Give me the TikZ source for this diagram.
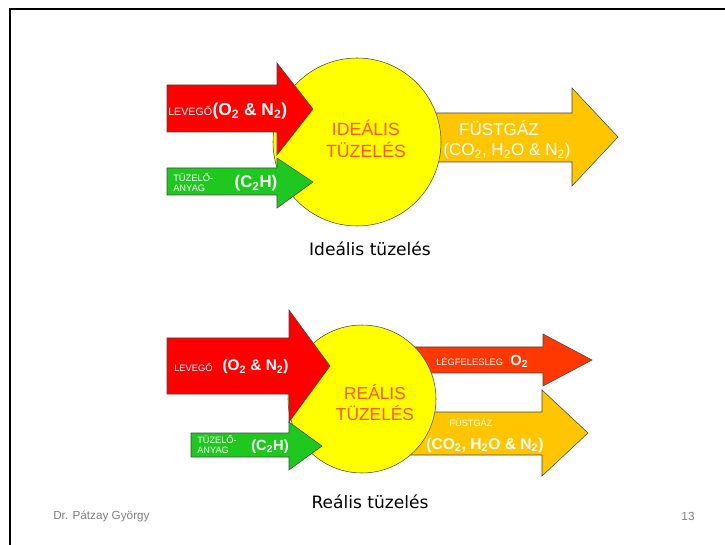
\documentclass[tikz,border=0pt]{standalone}
\usepackage{fontspec}
\setmainfont{Liberation Sans}
\newfontfamily\comicfont{DejaVu Sans}
\usepackage{xcolor}
\usetikzlibrary{positioning}

\definecolor{fire_yellow}{RGB}{255,255,0}
\definecolor{air_red}{RGB}{255,0,0}
\definecolor{fuel_green}{RGB}{30,200,30}
\definecolor{flue_orange}{RGB}{255,198,0}
\definecolor{excess_red}{RGB}{255,55,0}
\definecolor{title_orange}{RGB}{255,85,25}

\begin{document}
\begin{tikzpicture}[x=0.75pt,y=-0.75pt]
	\tikzstyle{shape_line}
	  =[draw=gray!55!black, line width=0.4pt]
	\tikzstyle{fire}
	  =[shape_line, fill=fire_yellow, circle, inner sep=0pt]
	\tikzstyle{txt}
	  =[inner sep=0pt, text=white, align=left]
	\tikzstyle{txt_fire}
	  =[inner sep=0pt, text=title_orange, align=center,
	  font=\fontsize{13.3}{16.3}\selectfont]
	\tikzstyle{txt_caption}
	  =[inner sep=0pt, font=\comicfont\fontsize{12.8}{14}\selectfont]
	\tikzstyle{txt_footer}
	  =[inner sep=0pt, text=gray, font=\fontsize{8.8}{10}\selectfont]

	\useasboundingbox (0,0) rectangle (725,545);
	\fill[white] (0,0) rectangle (725,545);
	\draw[line width=2pt] (725,9) -- (10,9) -- (10,545);

	% ideal combustion
	\fill[flue_orange, shape_line] (400,113) -- (572,113) -- (572,88)
	  -- (618,137) -- (572,186) -- (572,162) -- (400,162) -- cycle;
	\node[fire, minimum size=126pt] (fire1) at (357,142) {};
	\fill[air_red, shape_line] (167,85) -- (277,85) -- (277,63)
	  -- (313,109) -- (277,155) -- (277,132) -- (167,132) -- cycle;
	\fill[fuel_green, shape_line] (167,168) -- (277,168) -- (277,158)
	  -- (313,182) -- (277,208) -- (277,195) -- (167,195) -- cycle;

	\node[txt, anchor=west, font=\fontsize{8}{9}\selectfont] (lev1)
	  at (168,111) {LEVEGŐ};
	\node[txt, font=\bfseries\fontsize{13}{14}\selectfont] (air1)
	  [right=0pt of lev1] {(O\textsubscript{2} \& N\textsubscript{2})};
	\node[txt, anchor=west, font=\fontsize{7}{8.2}\selectfont] (fuel1)
	  at (173,182.5) {TÜZELŐ-\\ANYAG};
	\node[txt, font=\bfseries\fontsize{12.6}{14}\selectfont] (ch1)
	  at (256,183) {(C\textsubscript{2}H)};
	\node[txt_fire] (name1) at (366,139) {IDEÁLIS\\TÜZELÉS};
	\node[txt, align=center, font=\fontsize{12.8}{15}\selectfont] (flue1)
	  at (507,140) {\hspace*{-12pt}FÜSTGÁZ\\(CO\textsubscript{2}, H\textsubscript{2}O \& N\textsubscript{2})};
	\node[txt_caption] (cap1) at (370,249) {Ideális tüzelés};

	% real combustion
	\fill[excess_red, shape_line] (400,347) -- (543,347) -- (543,334)
	  -- (592,360) -- (543,386) -- (543,373) -- (400,373) -- cycle;
	\fill[flue_orange, shape_line] (400,412) -- (542,412) -- (542,390)
	  -- (588,433) -- (542,476) -- (542,455) -- (400,455) -- cycle;
	\node[fire, minimum size=111pt] (fire2) at (362,399) {};
	\fill[air_red, shape_line] (167,338) -- (289,338) -- (289,310)
	  -- (330,366) -- (289,422) -- (289,394) -- (167,394) -- cycle;
	\fill[fuel_green, shape_line] (191,433) -- (289,433) -- (289,422)
	  -- (322,446) -- (289,470) -- (289,457) -- (191,457) -- cycle;

	\node[txt, anchor=west, font=\fontsize{7}{8}\selectfont] (lev2)
	  at (174,367) {LEVEGŐ};
	\node[txt, font=\bfseries\fontsize{11.5}{13}\selectfont] (air2)
	  [right=7pt of lev2] {(O\textsubscript{2} \& N\textsubscript{2})};
	\node[txt, anchor=west, font=\fontsize{6.9}{7.5}\selectfont] (fuel2)
	  at (197,445) {TÜZELŐ-\\ANYAG};
	\node[txt, font=\bfseries\fontsize{11}{13}\selectfont] (ch2)
	  at (270,447) {(C\textsubscript{2}H)};
	\node[txt_fire, font=\fontsize{13}{15.8}\selectfont] (name2)
	  at (375,402.5) {REÁLIS\\TÜZELÉS};
	\node[txt, anchor=west, font=\fontsize{7}{8}\selectfont] (excess2)
	  at (436,361) {LÉGFELESLEG};
	\node[txt, font=\bfseries\fontsize{11}{13}\selectfont] (o2)
	  [right=5pt of excess2] {O\textsubscript{2}};
	\node[txt, font=\fontsize{6.9}{8}\selectfont] (flue2)
	  at (471,423) {FÜSTGÁZ};
	\node[txt, font=\bfseries\fontsize{11.7}{13}\selectfont] (gas2)
	  at (485,445) {(CO\textsubscript{2}, H\textsubscript{2}O \& N\textsubscript{2})};
	\node[txt_caption] (cap2) at (370,502) {Reális tüzelés};

	% footer
	\node[txt_footer, anchor=west] (author) at (53,516) {Dr. Pátzay György};
	\node[txt_footer] (page) at (688,516) {13};
\end{tikzpicture}
\end{document}
